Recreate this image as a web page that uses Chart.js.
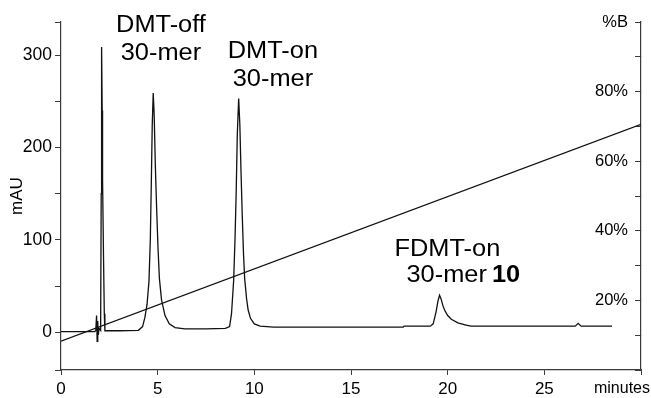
<!DOCTYPE html>
<html>
<head>
<meta charset="utf-8">
<script src="https://cdn.jsdelivr.net/npm/chart.js@4"></script>
<style>
  html, body { margin: 0; background: #fff; }
  #wrap { width: 651px; height: 398px; }
</style>
</head>
<body>
<div id="wrap"><canvas id="myChart"></canvas></div>
<script>
// chromatogram trace (minutes, mAU)
const traceTime = [0, 1, 1.75, 1.8, 1.84, 1.87, 1.9, 1.93, 1.97, 2.02, 2.05, 2.08, 2.10, 2.13, 2.15, 2.2, 2.24, 2.27, 3, 4,
  4.22, 4.34, 4.45, 4.55, 4.62, 4.67, 4.72, 4.77, 4.82, 4.88, 4.95, 5.02, 5.09, 5.2, 5.38, 5.6, 5.9, 6.4, 7.5,
  8.5, 8.72, 8.82, 8.93, 9.0, 9.06, 9.12, 9.19, 9.25, 9.31, 9.37, 9.44, 9.5, 9.6, 9.68, 9.8, 10.0, 10.3, 11, 17.7, 17.75,
  19.1, 19.25, 19.4, 19.5, 19.58, 19.66, 19.75, 19.84, 20.0, 20.19, 20.53, 20.9, 21.2, 26.6, 26.75, 26.9, 28.5];
const traceMAU = [0.5, 0.5, 0.5, 2, 18, -10, 12, -3, 4, 3, 2, 150, 309, 240, 165, 80, 20, 1.5, 1.5, 2,
  6, 16, 30, 55, 100, 160, 225, 259, 235, 180, 132, 90, 58, 35, 18, 9, 5, 3.5, 3.5,
  4, 6, 20, 56, 100, 150, 215, 253, 225, 175, 130, 85, 58, 36, 24, 15, 9, 6.5, 5.5, 5.5, 6.5,
  6.5, 9, 22, 34, 40, 36, 29, 24, 18, 14, 10, 8, 6.5, 6.5, 9.5, 6.5, 6.5];

// solvent gradient (%B)
const gradTime = [0, 30];
const gradB = [8.3, 70.6];

// ticks
const xTicks = [0, 5, 10, 15, 20, 25, 30];
const mauTicks = [0, 50, 100, 150, 200, 250, 300];
const bTicks = [0, 10, 20, 30, 40, 50, 60, 70, 80, 90, 100];

// peak names
const peakTitle = ['DMT-off', 'DMT-on', 'FDMT-on'];
const peakSub = ['30-mer', '30-mer', '30-mer'];
const peakNo = ['', '', '10'];

const FONT = '"Liberation Sans", Arial, Helvetica, sans-serif';
const AXIS = '#3a3a3a';

const peakText = {
  id: 'peakText',
  afterDraw(chart) {
    const ctx = chart.ctx;
    const x = chart.scales.x, y = chart.scales.y;
    const put = (str, t, v, align, bold) => {
      ctx.save();
      ctx.translate(x.getPixelForValue(t), y.getPixelForValue(v));
      ctx.scale(1.08, 1);
      ctx.font = (bold ? 'bold ' : '') + '23.5px ' + FONT;
      ctx.fillStyle = '#000';
      ctx.textAlign = align;
      ctx.textBaseline = 'alphabetic';
      ctx.fillText(str, 0, 0);
      const w = ctx.measureText(str).width * 1.08;
      ctx.restore();
      return w;
    };
    put(peakTitle[0], 5.17, 325, 'center');
    put(peakSub[0], 5.17, 295, 'center');
    put(peakTitle[1], 10.96, 297, 'center');
    put(peakSub[1], 10.96, 267, 'center');
    put(peakTitle[2], 17.25, 82.5, 'left');
    const w = put(peakSub[2], 17.87, 54.3, 'left');
    put(peakNo[2], 17.87 + (w + 5) / (x.width / 30), 54.3, 'left', true);

    // axis unit at the end of the time axis
    ctx.save();
    ctx.font = '16px ' + FONT;
    ctx.fillStyle = '#000';
    ctx.textAlign = 'right';
    ctx.fillText('minutes', 650, 393);
    ctx.restore();
  }
};

new Chart(document.getElementById('myChart'), {
  type: 'line',
  data: {
    datasets: [{
      label: 'mAU',
      data: traceTime.map((t, i) => ({ x: t, y: traceMAU[i] })),
      borderColor: '#111',
      borderWidth: 1.3,
      pointRadius: 0,
      tension: 0,
      yAxisID: 'y'
    }, {
      label: '%B',
      data: gradTime.map((t, i) => ({ x: t, y: gradB[i] })),
      borderColor: '#111',
      borderWidth: 1.1,
      pointRadius: 0,
      tension: 0,
      yAxisID: 'y2'
    }]
  },
  options: {
    responsive: true,
    maintainAspectRatio: false,
    animation: false,
    layout: { padding: { top: 22, left: 0, right: 0, bottom: 0 } },
    plugins: { legend: { display: false }, tooltip: { enabled: false } },
    scales: {
      x: {
        type: 'linear', min: 0, max: 30,
        afterBuildTicks: s => { s.ticks = xTicks.map(v => ({ value: v })); },
        afterFit: s => { s.height = 28; },
        ticks: {
          font: { size: 17, family: FONT }, color: '#000', padding: 4,
          maxRotation: 0, autoSkip: false,
          callback: v => (v === 30 ? '' : v)
        },
        grid: { drawOnChartArea: false, tickLength: 5, color: AXIS },
        border: { color: AXIS, width: 1.2 }
      },
      y: {
        position: 'left', min: -41, max: 336,
        afterBuildTicks: s => { s.ticks = [s.min, ...mauTicks, s.max].map(v => ({ value: v })); },
        afterFit: s => { s.width = 61; },
        ticks: {
          font: { size: 17.5, family: FONT }, color: '#000', padding: 3,
          callback: v => (mauTicks.includes(v) && v % 100 === 0 ? v : '')
        },
        grid: { drawOnChartArea: false, tickLength: 6, color: AXIS },
        border: { color: AXIS, width: 1.2 },
        title: { display: true, text: 'mAU', font: { size: 17, family: FONT }, color: '#000', padding: { top: 7, bottom: 0 } }
      },
      y2: {
        position: 'right', min: 0, max: 100,
        afterBuildTicks: s => { s.ticks = bTicks.map(v => ({ value: v })); },
        afterFit: s => { s.width = 10; },
        ticks: {
          mirror: true, padding: -13,
          font: { size: 16.5, family: FONT }, color: '#000',
          callback: v => (v === 100 ? '%B' : (v > 0 && v % 20 === 0 ? v + '%' : ''))
        },
        grid: { drawOnChartArea: false, tickLength: -6, color: AXIS },
        border: { color: AXIS, width: 1.2 }
      }
    }
  },
  plugins: [peakText]
});
</script>
</body>
</html>
